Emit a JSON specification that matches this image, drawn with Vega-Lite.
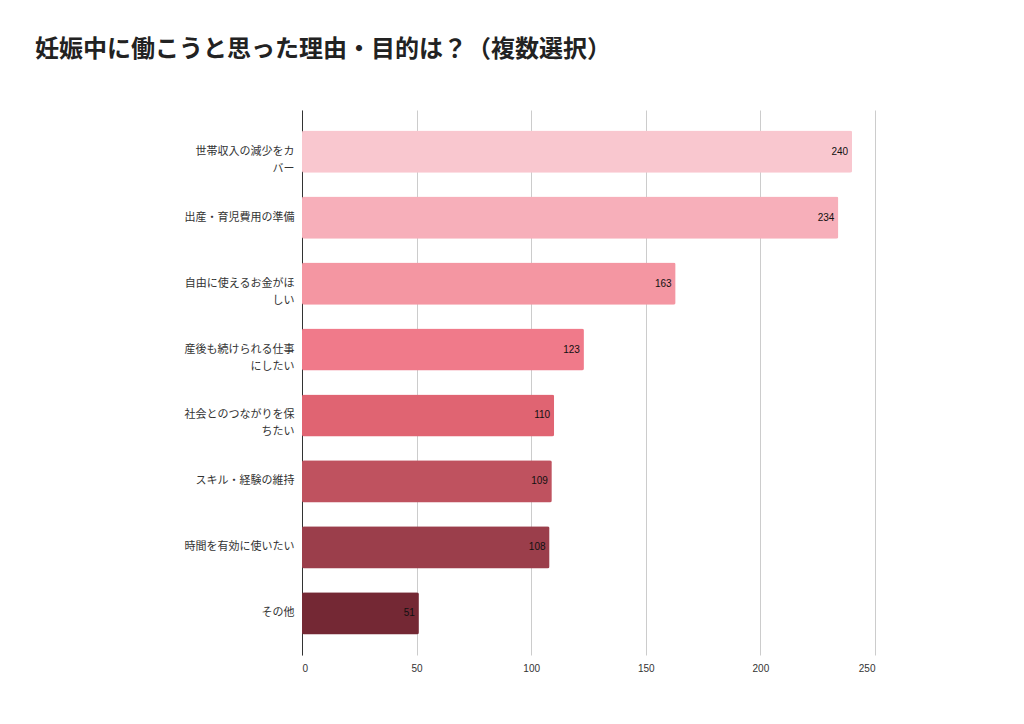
{
  "$schema": "https://vega.github.io/schema/vega-lite/v6.json",
  "width": 573,
  "height": 545,
  "autosize": {"type": "none"},
  "padding": {"left": 302, "top": 110, "right": 149, "bottom": 69},
  "background": "white",
  "title": {
    "text": "妊娠中に働こうと思った理由・目的は？（複数選択）",
    "anchor": "start",
    "frame": "group",
    "dx": -267,
    "offset": 48,
    "font": "Noto Sans CJK JP",
    "fontSize": 24,
    "fontWeight": "bold",
    "color": "#222222"
  },
  "data": {
    "values": [
      {"reason": "世帯収入の減少をカ|バー", "count": 240, "c": "#f9c7cf"},
      {"reason": "出産・育児費用の準備", "count": 234, "c": "#f7afba"},
      {"reason": "自由に使えるお金がほ|しい", "count": 163, "c": "#f496a2"},
      {"reason": "産後も続けられる仕事|にしたい", "count": 123, "c": "#f07a8a"},
      {"reason": "社会とのつながりを保|ちたい", "count": 110, "c": "#e06472"},
      {"reason": "スキル・経験の維持", "count": 109, "c": "#bf525f"},
      {"reason": "時間を有効に使いたい", "count": 108, "c": "#9b3e4b"},
      {"reason": "その他", "count": 51, "c": "#742834"}
    ]
  },
  "encoding": {
    "y": {
      "field": "reason",
      "type": "nominal",
      "sort": null,
      "title": null,
      "scale": {"paddingInner": 0.36, "paddingOuter": 0.31},
      "axis": {
        "labelExpr": "split(datum.label, '|')",
        "labelFont": "Noto Sans CJK JP",
        "labelFontSize": 11,
        "labelColor": "#333333",
        "labelLineHeight": 17,
        "labelPadding": 8,
        "ticks": false,
        "domainColor": "#333333",
        "grid": false
      }
    },
    "x": {
      "field": "count",
      "type": "quantitative",
      "title": null,
      "scale": {"domain": [0, 250]},
      "axis": {
        "values": [0, 50, 100, 150, 200, 250],
        "domain": false,
        "ticks": false,
        "labelFontSize": 10,
        "labelColor": "#333333",
        "labelPadding": 8,
        "gridColor": "#cccccc"
      }
    }
  },
  "layer": [
    {
      "mark": {"type": "bar", "cornerRadius": 2},
      "encoding": {"color": {"field": "c", "type": "nominal", "scale": null}}
    },
    {
      "mark": {"type": "text", "align": "right", "dx": -4, "fontSize": 10, "color": "#111111"},
      "encoding": {"text": {"field": "count", "type": "quantitative"}}
    }
  ],
  "config": {"view": {"stroke": null}}
}
